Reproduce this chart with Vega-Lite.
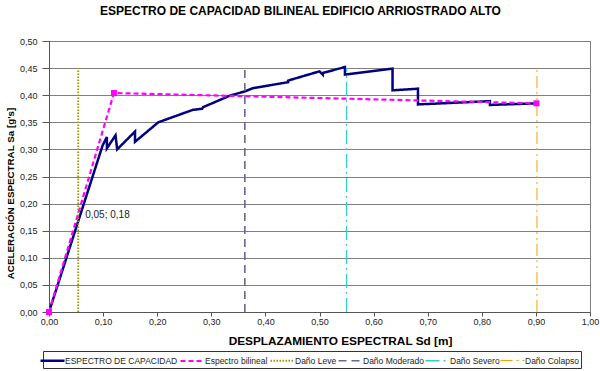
{
  "$schema": "https://vega.github.io/schema/vega-lite/v6.json",
  "width": 541,
  "height": 271,
  "autosize": "none",
  "padding": {"left": 49, "top": 41, "right": 10, "bottom": 59},
  "background": "white",
  "title": {
    "text": "ESPECTRO DE CAPACIDAD BILINEAL EDIFICIO ARRIOSTRADO ALTO",
    "font": "Liberation Sans",
    "fontSize": 12,
    "fontWeight": "bold",
    "color": "black",
    "anchor": "middle",
    "frame": "group",
    "dx": -19,
    "offset": 19
  },
  "config": {
    "font": "Liberation Sans",
    "view": {"stroke": "#808080", "strokeWidth": 1},
    "axis": {
      "labelFont": "Liberation Sans",
      "labelFontSize": 9,
      "labelColor": "#222",
      "titleFont": "Liberation Sans",
      "titleFontWeight": "bold",
      "titleColor": "black",
      "domainColor": "#555",
      "tickColor": "#555",
      "labelFlush": false,
      "labelOverlap": false
    },
    "legend": {
      "labelFont": "Liberation Sans",
      "labelFontSize": 8.5,
      "labelColor": "#222"
    }
  },
  "datasets": {
    "lines": [
      {"s": "ESPECTRO DE CAPACIDAD", "o": 0, "x": 0.0, "y": 0.0},
      {"s": "ESPECTRO DE CAPACIDAD", "o": 1, "x": 0.099, "y": 0.307},
      {"s": "ESPECTRO DE CAPACIDAD", "o": 2, "x": 0.107, "y": 0.323},
      {"s": "ESPECTRO DE CAPACIDAD", "o": 3, "x": 0.107, "y": 0.302},
      {"s": "ESPECTRO DE CAPACIDAD", "o": 4, "x": 0.123, "y": 0.326},
      {"s": "ESPECTRO DE CAPACIDAD", "o": 5, "x": 0.126, "y": 0.300},
      {"s": "ESPECTRO DE CAPACIDAD", "o": 6, "x": 0.159, "y": 0.333},
      {"s": "ESPECTRO DE CAPACIDAD", "o": 7, "x": 0.159, "y": 0.314},
      {"s": "ESPECTRO DE CAPACIDAD", "o": 8, "x": 0.202, "y": 0.350},
      {"s": "ESPECTRO DE CAPACIDAD", "o": 9, "x": 0.266, "y": 0.373},
      {"s": "ESPECTRO DE CAPACIDAD", "o": 10, "x": 0.283, "y": 0.375},
      {"s": "ESPECTRO DE CAPACIDAD", "o": 11, "x": 0.285, "y": 0.378},
      {"s": "ESPECTRO DE CAPACIDAD", "o": 12, "x": 0.334, "y": 0.399},
      {"s": "ESPECTRO DE CAPACIDAD", "o": 13, "x": 0.362, "y": 0.407},
      {"s": "ESPECTRO DE CAPACIDAD", "o": 14, "x": 0.377, "y": 0.413},
      {"s": "ESPECTRO DE CAPACIDAD", "o": 15, "x": 0.442, "y": 0.424},
      {"s": "ESPECTRO DE CAPACIDAD", "o": 16, "x": 0.442, "y": 0.427},
      {"s": "ESPECTRO DE CAPACIDAD", "o": 17, "x": 0.500, "y": 0.444},
      {"s": "ESPECTRO DE CAPACIDAD", "o": 18, "x": 0.506, "y": 0.438},
      {"s": "ESPECTRO DE CAPACIDAD", "o": 19, "x": 0.506, "y": 0.441},
      {"s": "ESPECTRO DE CAPACIDAD", "o": 20, "x": 0.547, "y": 0.452},
      {"s": "ESPECTRO DE CAPACIDAD", "o": 21, "x": 0.547, "y": 0.438},
      {"s": "ESPECTRO DE CAPACIDAD", "o": 22, "x": 0.635, "y": 0.449},
      {"s": "ESPECTRO DE CAPACIDAD", "o": 23, "x": 0.635, "y": 0.409},
      {"s": "ESPECTRO DE CAPACIDAD", "o": 24, "x": 0.682, "y": 0.412},
      {"s": "ESPECTRO DE CAPACIDAD", "o": 25, "x": 0.682, "y": 0.383},
      {"s": "ESPECTRO DE CAPACIDAD", "o": 26, "x": 0.815, "y": 0.389},
      {"s": "ESPECTRO DE CAPACIDAD", "o": 27, "x": 0.815, "y": 0.382},
      {"s": "ESPECTRO DE CAPACIDAD", "o": 28, "x": 0.901, "y": 0.385},
      {"s": "Espectro bilineal", "o": 0, "x": 0.0, "y": 0.0},
      {"s": "Espectro bilineal", "o": 1, "x": 0.12, "y": 0.404},
      {"s": "Espectro bilineal", "o": 2, "x": 0.901, "y": 0.385},
      {"s": "Daño Leve", "o": 0, "x": 0.054, "y": 0.0},
      {"s": "Daño Leve", "o": 1, "x": 0.054, "y": 0.45},
      {"s": "Daño Moderado", "o": 0, "x": 0.362, "y": 0.0},
      {"s": "Daño Moderado", "o": 1, "x": 0.362, "y": 0.45},
      {"s": "Daño Severo", "o": 0, "x": 0.55, "y": 0.0},
      {"s": "Daño Severo", "o": 1, "x": 0.55, "y": 0.45},
      {"s": "Daño Colapso", "o": 0, "x": 0.902, "y": 0.0},
      {"s": "Daño Colapso", "o": 1, "x": 0.902, "y": 0.45}
    ],
    "label": [
      {"x": 0.054, "y": 0.18, "t": "0,05; 0,18"}
    ]
  },
  "encoding": {
    "x": {
      "field": "x", "type": "quantitative",
      "scale": {"domain": [0, 1], "nice": false, "zero": false},
      "axis": {
        "title": "DESPLAZAMIENTO ESPECTRAL Sd [m]",
        "titleFontSize": 11.8,
        "titleX": 291,
        "titleY": 28,
        "titleBaseline": "middle",
        "values": [0, 0.1, 0.2, 0.3, 0.4, 0.5, 0.6, 0.7, 0.8, 0.9, 1.0],
        "labelExpr": "replace(format(datum.value, '.2f'), '.', ',')",
        "grid": false,
        "tickSize": 4,
        "labelPadding": 1
      }
    },
    "y": {
      "field": "y", "type": "quantitative",
      "scale": {"domain": [0, 0.5], "nice": false},
      "axis": {
        "title": "ACELERACIÓN ESPECTRAL Sa [g's]",
        "titleFontSize": 9.8,
        "titleX": -39,
        "titleY": 152,
        "titleBaseline": "middle",
        "values": [0, 0.05, 0.1, 0.15, 0.2, 0.25, 0.3, 0.35, 0.4, 0.45, 0.5],
        "labelExpr": "replace(format(datum.value, '.2f'), '.', ',')",
        "grid": true,
        "gridColor": "#808080",
        "gridWidth": 1,
        "tickSize": 7,
        "labelPadding": 5
      }
    }
  },
  "layer": [
    {
      "data": {"name": "lines"},
      "mark": {"type": "line", "clip": true},
      "encoding": {
        "color": {
          "field": "s", "type": "nominal",
          "scale": {
            "domain": ["ESPECTRO DE CAPACIDAD", "Espectro bilineal", "Daño Leve", "Daño Moderado", "Daño Severo", "Daño Colapso"],
            "range": ["#000080", "#FF00FF", "#999900", "#666699", "#33CCCC", "#FF9900"]
          },
          "legend": {
            "title": null,
            "orient": "none",
            "legendX": -6,
            "legendY": 310,
            "direction": "horizontal",
            "columns": 6,
            "strokeColor": "#333",
            "fillColor": "white",
            "padding": 2,
            "symbolType": "M-2,0H2",
            "symbolSize": 144,
            "columnPadding": -2,
            "labelOffset": 5
          }
        },
        "strokeDash": {
          "field": "s", "type": "nominal",
          "scale": {
            "domain": ["ESPECTRO DE CAPACIDAD", "Espectro bilineal", "Daño Leve", "Daño Moderado", "Daño Severo", "Daño Colapso"],
            "range": [[1, 0], [5, 3], [1.5, 1.5], [8, 5], [14, 4, 2, 4], [12, 4, 2, 4, 2, 4]]
          }
        },
        "strokeWidth": {
          "field": "s", "type": "nominal",
          "scale": {
            "domain": ["ESPECTRO DE CAPACIDAD", "Espectro bilineal", "Daño Leve", "Daño Moderado", "Daño Severo", "Daño Colapso"],
            "range": [2.5, 1, 1.5, 1.5, 1.5, 1.5]
          }
        },
        "order": {"field": "o", "type": "quantitative"}
      }
    },
    {
      "data": {"name": "lines"},
      "transform": [{"filter": "datum.s === 'Espectro bilineal'"}],
      "mark": {"type": "square", "filled": true, "color": "#FF00FF", "size": 36, "opacity": 1, "clip": false}
    },
    {
      "data": {"name": "label"},
      "mark": {"type": "text", "align": "left", "baseline": "middle", "dx": 7, "dy": 1, "fontSize": 10, "color": "#222", "font": "Liberation Sans"},
      "encoding": {
        "text": {"field": "t"}
      }
    }
  ]
}
